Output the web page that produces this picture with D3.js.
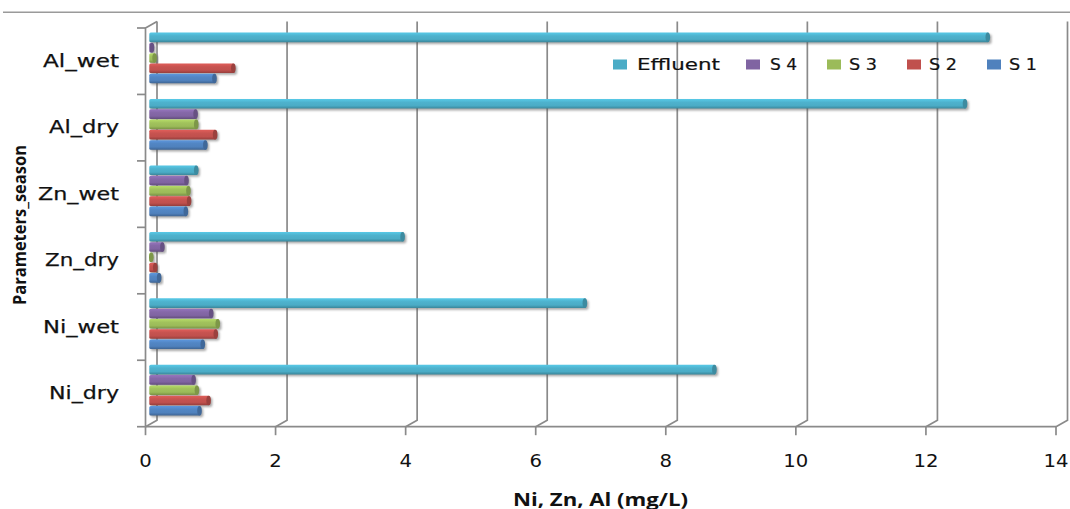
<!DOCTYPE html>
<html><head><meta charset="utf-8">
<script src="https://cdn.jsdelivr.net/npm/d3@7"></script>
<style>body{margin:0;background:#fff}svg{display:block}</style>
</head><body>
<svg id="c" width="1070" height="509"></svg>
<script>
const categories = ["Ni_dry","Ni_wet","Zn_dry","Zn_wet","Al_dry","Al_wet"];
const seriesNames = ["Effluent","S 4","S 3","S 2","S 1"];
const effluent = [8.70, 6.71, 3.91, 0.74, 12.55, 12.90];
const s4 = [0.70, 0.97, 0.22, 0.59, 0.73, 0.06];
const s3 = [0.75, 1.07, 0.05, 0.62, 0.74, 0.10];
const s2 = [0.93, 1.04, 0.11, 0.63, 1.03, 1.31];
const s1 = [0.79, 0.84, 0.17, 0.58, 0.88, 1.02];
const xTicks = [0,2,4,6,8,10,12,14];
const colors = ["#4BACC6","#8064A2","#9BBB59","#C0504D","#4F81BD"];
const seriesValues = [effluent, s4, s3, s2, s1];

const svg = d3.select("#c");
const defs = svg.append("defs");

// geometry
const frontL = 145.5, frontR = 1056, frontTop = 28, frontBot = 426.7;
const dX = 11.5, dY = -6.5; // depth offset to back wall
const xF = d3.scaleLinear().domain([0,14]).range([frontL, frontR]);
const xB = d3.scaleLinear().domain([0,14]).range([frontL+dX*0.33, frontR+dX*0.4]);
const catTopDown = categories.slice().reverse();
const yF = d3.scaleBand().domain(catTopDown).range([frontTop, frontBot]);
const yB = d3.scaleBand().domain(catTopDown).range([frontTop-3.3, frontBot-3.3])
  .paddingInner(0.226).paddingOuter(0.113);
const yS = d3.scaleBand().domain(seriesNames).range([0, yB.bandwidth()]);

// top rule
svg.append("line").attr("x1",3).attr("x2",1070).attr("y1",12.3).attr("y2",12.3)
  .attr("stroke","#9a9a9a").attr("stroke-width",1.5);

// grid lines (back wall + floor diagonals)
const gridG = svg.append("g").attr("fill","none").attr("stroke","#8a8a8a").attr("stroke-width",1.7);
xTicks.forEach(v => {
  const xb = xF(v)+dX, xf = xF(v);
  gridG.append("path").attr("d", `M${xb},${frontTop+dY} L${xb},${frontBot+dY} L${xf},${frontBot}`);
});
gridG.append("path").attr("d", `M${frontL+dX},${frontTop+dY} L${frontL},${frontTop} L${frontL},${frontBot}`);
gridG.append("line").attr("x1",frontL).attr("x2",frontR).attr("y1",frontBot).attr("y2",frontBot);
xTicks.forEach(v => gridG.append("line").attr("x1",xF(v)).attr("x2",xF(v)).attr("y1",frontBot).attr("y2",frontBot+8.5));
const bounds = catTopDown.map(c => yF(c)).concat([frontBot]);
bounds.forEach(y => gridG.append("line").attr("x1",frontL-8.5).attr("x2",frontL).attr("y1",y).attr("y2",y));

// gradients & shadow
const filt = defs.append("filter").attr("id","sh").attr("x","-5%").attr("y","-50%").attr("width","110%").attr("height","220%");
filt.append("feGaussianBlur").attr("stdDeviation",1.0);
colors.forEach((c,i) => {
  const g = defs.append("linearGradient").attr("id","g"+i).attr("x1",0).attr("x2",0).attr("y1",0).attr("y2",1);
  const base = d3.color(c);
  g.append("stop").attr("offset","0%").attr("stop-color", base.brighter(0.45));
  g.append("stop").attr("offset","35%").attr("stop-color", base.brighter(0.1));
  g.append("stop").attr("offset","70%").attr("stop-color", base);
  g.append("stop").attr("offset","100%").attr("stop-color", base.darker(0.7));
});

// bars
const barH = 9.6;
const barsG = svg.append("g");
seriesNames.forEach((s, si) => {
  categories.forEach((cat, ci) => {
    const v = seriesValues[si][ci];
    const x0 = xB(0), x1 = xB(v);
    const yc = yB(cat) + yS(s) + yS.bandwidth()/2;
    const g = barsG.append("g");
    g.append("rect").attr("x", x0+1.5).attr("y", yc-barH/2+1.8).attr("width", Math.max(x1-x0,1.5)+1).attr("height", barH)
      .attr("rx", 2).attr("fill", "#555").attr("opacity", 0.5).attr("filter","url(#sh)");
    g.append("rect").attr("x", x0).attr("y", yc-barH/2).attr("width", Math.max(x1-x0,1.5)).attr("height", barH)
      .attr("rx", 1.5).attr("fill", `url(#g${si})`);
    g.append("ellipse").attr("cx", x1-1.2).attr("cy", yc).attr("rx", 2.3).attr("ry", barH/2)
      .attr("fill", d3.color(colors[si]).darker(0.6));
  });
});

// category labels
const catLabelW = {"Al_wet":76,"Al_dry":70,"Zn_wet":81,"Zn_dry":74,"Ni_wet":76,"Ni_dry":70};
categories.forEach(cat => {
  const yc = yF(cat) + yF.bandwidth()/2 - 1;
  svg.append("text").attr("x", 119).attr("y", yc).attr("dy","0.36em")
    .attr("text-anchor","end")
    .attr("font-family","DejaVu Sans, Verdana, sans-serif").attr("font-size",18).attr("fill","#111")
    .attr("stroke","#111").attr("stroke-width",0.25)
    .attr("textLength", catLabelW[cat]).attr("lengthAdjust","spacingAndGlyphs")
    .text(cat);
});

// x tick labels
xTicks.forEach(v => {
  svg.append("text").attr("x", xF(v)).attr("y", 466.5).attr("text-anchor","middle")
    .attr("font-family","DejaVu Sans, sans-serif").attr("font-size",18).attr("fill","#111")
    .attr("textLength", String(v).length*12.5).attr("lengthAdjust","spacingAndGlyphs")
    .text(v);
});

// axis titles
svg.append("text").attr("x", 600.5).attr("y", 505.5).attr("text-anchor","middle")
  .attr("font-family","Open Sans, Lato, sans-serif").attr("font-weight","bold").attr("font-size",17.5).attr("fill","#111")
  .attr("textLength",175).attr("lengthAdjust","spacingAndGlyphs")
  .text("Ni, Zn, Al (mg/L)");
svg.append("text").attr("transform","translate(26,225) rotate(-90)").attr("text-anchor","middle")
  .attr("font-family","Open Sans, Lato, sans-serif").attr("font-weight","bold").attr("font-size",18.5).attr("fill","#111")
  .attr("textLength",160).attr("lengthAdjust","spacingAndGlyphs")
  .text("Parameters_season");

// legend
const legendItems = [
  {sq:613, tx:637, w:83},
  {sq:746, tx:770, w:27},
  {sq:827, tx:849, w:28},
  {sq:907, tx:929, w:28},
  {sq:987, tx:1009, w:28}
];
const lg = svg.append("g");
seriesNames.forEach((s,i) => {
  const it = legendItems[i];
  lg.append("rect").attr("x", it.sq).attr("y", 59.5).attr("width", 14).attr("height", 10).attr("fill", colors[i]);
  lg.append("text").attr("x", it.tx).attr("y", 64.5).attr("dy","0.36em")
    .attr("font-family","DejaVu Sans, Verdana, sans-serif").attr("font-size",16).attr("fill","#111")
    .attr("stroke","#111").attr("stroke-width",0.2)
    .attr("textLength", it.w).attr("lengthAdjust","spacingAndGlyphs")
    .text(s);
});
</script>
</body></html>
